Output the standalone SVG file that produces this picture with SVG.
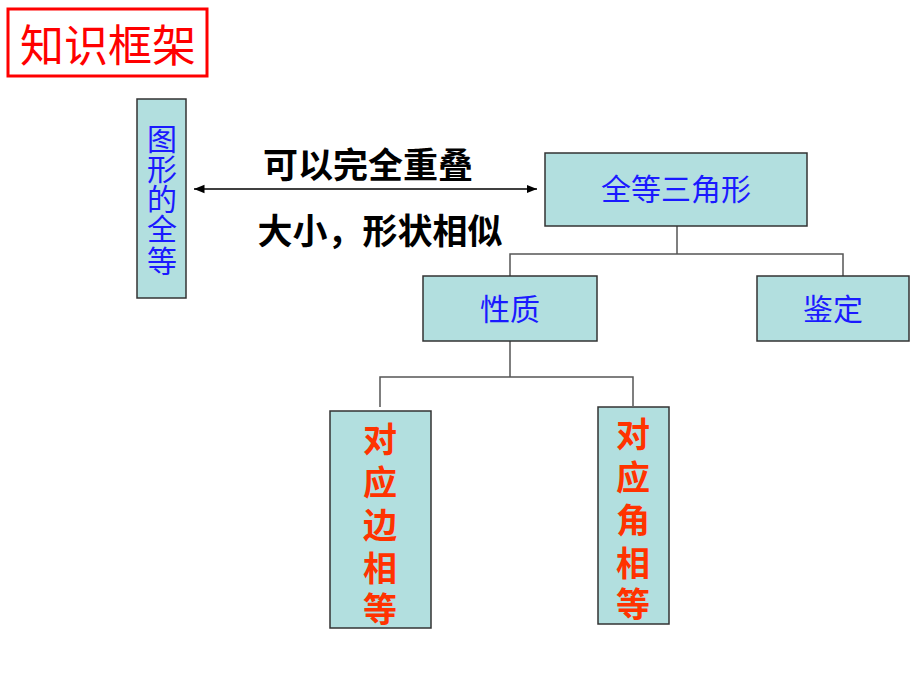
<svg xmlns="http://www.w3.org/2000/svg" width="920" height="690" viewBox="0 0 920 690">
<defs>
<style>
.n{fill:#b2dfdf;stroke:#333;stroke-width:1.5}
.b{fill:#1a1aff;font-family:"Liberation Serif","Noto Sans CJK SC",serif;font-size:30px;text-anchor:middle}
.r{fill:#ff3300;font-family:"Liberation Sans","Noto Sans CJK SC",sans-serif;font-weight:bold;font-size:34px;text-anchor:middle}
.k{fill:#000;font-family:"Liberation Sans","Noto Sans CJK SC",sans-serif;font-weight:bold;font-size:35px}
.c{fill:none;stroke:#555;stroke-width:1.5}
</style>
<marker id="a" viewBox="0 0 10 10" refX="10" refY="5" markerWidth="7" markerHeight="7" orient="auto-start-reverse"><path d="M0,1 L10,5 L0,9 Z" fill="#000"/></marker>
</defs>
<rect width="920" height="690" fill="#fff"/>
<g id="title"><rect x="8" y="9" width="199" height="67" fill="#fff" stroke="#ff0000" stroke-width="3"/>
<text x="108" y="62" font-family="Liberation Sans,'Noto Sans CJK SC',sans-serif" font-size="44" fill="#ff0000" text-anchor="middle">知识框架</text></g>
<g id="connectors">
<line x1="194" y1="189" x2="537" y2="189" stroke="#000" stroke-width="1.5" marker-start="url(#a)" marker-end="url(#a)"/>
<polyline class="c" points="677,226 677,254"/>
<polyline class="c" points="510,276 510,254 843,254 843,276"/>
<polyline class="c" points="510,341 510,377"/>
<polyline class="c" points="380,407 380,377 633,377 633,406"/>
</g>
<g id="labels">
<text class="k" x="368" y="178" text-anchor="middle">可以完全重叠</text>
<text class="k" x="380" y="244" text-anchor="middle">大小，形状相似</text>
</g>
<g id="node-figure"><rect class="n" x="137" y="99" width="49" height="199"/>
<text class="b" x="162" y="150">图</text><text class="b" x="162" y="180">形</text><text class="b" x="162" y="210">的</text><text class="b" x="162" y="240">全</text><text class="b" x="162" y="272">等</text></g>
<g id="node-congruent"><rect class="n" x="545" y="153" width="262" height="73"/><text class="b" x="676" y="200">全等三角形</text></g>
<g id="node-property"><rect class="n" x="423" y="276" width="174" height="65"/><text class="b" x="510" y="320">性质</text></g>
<g id="node-judge"><rect class="n" x="757" y="276" width="152" height="65"/><text class="b" x="833" y="320">鉴定</text></g>
<g id="node-sides"><rect class="n" x="330" y="411" width="101" height="217"/>
<text class="r" x="380" y="452">对</text><text class="r" x="380" y="495">应</text><text class="r" x="380" y="538">边</text><text class="r" x="380" y="581">相</text><text class="r" x="380" y="622">等</text></g>
<g id="node-angles"><rect class="n" x="598" y="407" width="71" height="217"/>
<text class="r" x="633" y="447">对</text><text class="r" x="633" y="490">应</text><text class="r" x="633" y="533">角</text><text class="r" x="633" y="576">相</text><text class="r" x="633" y="617">等</text></g>
</svg>
